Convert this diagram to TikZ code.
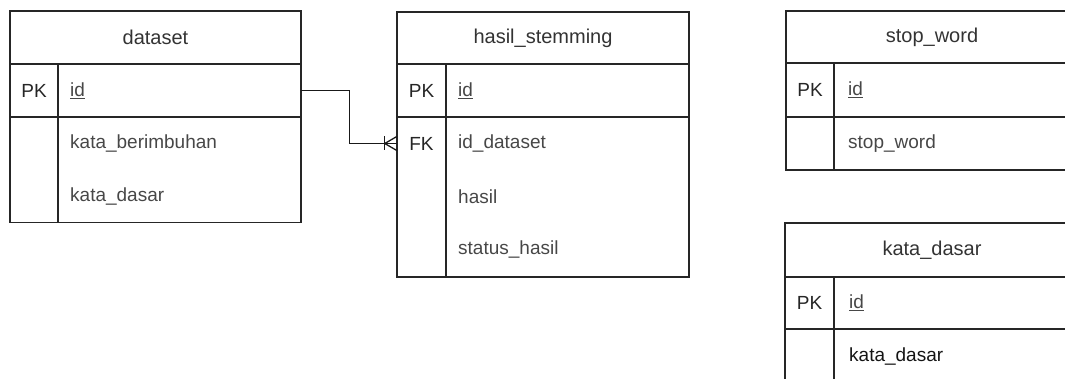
\documentclass[tikz,border=0pt]{standalone}
\usepackage{fontspec}
\setmainfont{Liberation Sans}
\begin{document}
\begin{tikzpicture}[x=1pt,y=-1pt,
  tl/.style={draw=black!85, line width=1.4pt},
  cn/.style={draw=black!90, line width=1.3pt},
  rowarea/.style={rectangle, inner sep=0pt, minimum height=53pt},
  ttl/.style={font=\fontsize{20}{24}\selectfont, text=black!80},
  pkt/.style={font=\fontsize{19}{23}\selectfont, text=black!85},
  fld/.style={font=\fontsize{19}{23}\selectfont, text=black!72, anchor=west, inner sep=0pt},
  fldd/.style={fld, text=black!92}
]
\useasboundingbox (0,0) rectangle (1065,379);
\clip (0,0) rectangle (1065,379);

% ---------- dataset ----------
\draw[tl] (10,11) rectangle (301,222.5);
\draw[tl] (10,64) -- (301,64);
\draw[tl] (10,117) -- (301,117);
\draw[tl] (58,64) -- (58,222.5);
\node[ttl] (dsT) at (155.5,37.5) {dataset};
\node[rowarea, minimum width=291pt] (dsPK) at (155.5,90.5) {};
\node[pkt] (dsPKl) at (34,90.5) {PK};
\node[fld] (dsid) at (70,90.5) {\underline{id}};
\node[fld] (dsf1) at (70,143.5) {kata\_berimbuhan};
\node[fld] (dsf2) at (70,196.5) {kata\_dasar};

% ---------- hasil_stemming ----------
\draw[tl] (397,12) rectangle (689,277);
\draw[tl] (397,64) -- (689,64);
\draw[tl] (397,117) -- (689,117);
\draw[tl] (446,64) -- (446,277);
\node[ttl] (hsT) at (543,38) {hasil\_stemming};
\node[rowarea, minimum width=292pt] (hsFK) at (543,143.5) {};
\node[pkt] (hsPKl) at (421.5,90.5) {PK};
\node[pkt] (hsFKl) at (421.5,143.5) {FK};
\node[fld] (hsid) at (458,90.5) {\underline{id}};
\node[fld] (hsf1) at (458,143.5) {id\_dataset};
\node[fld] (hsf2) at (458,196.5) {hasil};
\node[fld] (hsf3) at (458,250) {status\_hasil};

% ---------- stop_word ----------
\draw[tl] (786,11) rectangle (1078,170);
\draw[tl] (786,63) -- (1078,63);
\draw[tl] (786,117) -- (1078,117);
\draw[tl] (834,63) -- (834,170);
\node[ttl] (swT) at (932,37) {stop\_word};
\node[pkt] (swPKl) at (810,90) {PK};
\node[fld] (swid) at (848,90) {\underline{id}};
\node[fld] (swf1) at (848,143.5) {stop\_word};

% ---------- kata_dasar ----------
\draw[tl] (785,390) -- (785,223) -- (1078,223) -- (1078,390);
\draw[tl] (785,277) -- (1078,277);
\draw[tl] (785,329) -- (1078,329);
\draw[tl] (834,277) -- (834,390);
\node[ttl] (kdT) at (932,250) {kata\_dasar};
\node[pkt] (kdPKl) at (809.5,303) {PK};
\node[fld] (kdid) at (849,303) {\underline{id}};
\node[fldd] (kdf1) at (849,357) {kata\_dasar};

% ---------- connector ----------
\draw[cn] (dsPK.east) -- ++(48,0) |- (hsFK.west);
\draw[cn] (hsFK.west) ++(-12,-7) -- ++(0,14);
\draw[cn] (hsFK.west) ++(0,-7) -- ++(-12,7) -- ++(12,7);
\end{tikzpicture}
\end{document}
